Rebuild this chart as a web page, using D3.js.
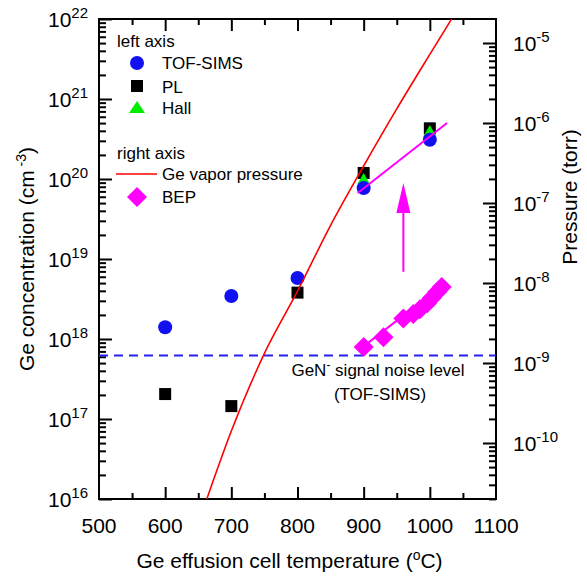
<!DOCTYPE html>
<html>
<head>
<meta charset="utf-8">
<script src="https://cdn.jsdelivr.net/npm/d3@7"></script>
<style>
  body { margin: 0; background: #fff; }
  text { font-family: "Liberation Sans", Arial, sans-serif; fill: #000; }
</style>
</head>
<body>
<script>
// data
const temps = [600, 700, 800, 900, 1000];
const tofSims = [1.4e18, 3.45e18, 5.8e18, 7.7e19, 3.1e20];
const pl = [2.05e17, 1.45e17, 3.8e18, 1.19e20, 4.3e20];
const hallT = [900, 1000];
const hall = [9.8e19, 3.9e20];
const vaporT = [663, 700, 750, 800, 850, 900, 950, 1000, 1033];
const vaporP = [2.0e-11, 1.41e-10, 1.32e-9, 7.9e-9, 5.25e-8, 2.9e-7, 1.5e-6, 7.2e-6, 2.0e-5];
const bepT = [900, 930, 960, 975, 985, 996, 1003, 1011, 1018];
const bepP = [1.58e-9, 2.1e-9, 3.6e-9, 4.1e-9, 4.7e-9, 5.6e-9, 6.5e-9, 7.7e-9, 8.9e-9];
const tofFitT = [891, 1026];
const tofFit = [6.7e19, 5.0e20];
const bepFitT = [895, 1022];
const bepFit = [1.5e-9, 9.8e-9];
const noiseLevel = 6.2e17;
const xTicks = [500, 600, 700, 800, 900, 1000, 1100];
const leftExp = [16, 17, 18, 19, 20, 21, 22];
const rightExp = [-5, -6, -7, -8, -9, -10];

const W = 587, H = 577;
const L = 99, R = 496, T = 19, B = 499;

const svg = d3.select('body').append('svg')
  .attr('width', W).attr('height', H)
  .style('background-color', 'white');

const x = d3.scaleLinear().domain([500, 1100]).range([L, R]);
const yL = d3.scaleLog().domain([1e16, 1e22]).range([B, T]);
const yR = d3.scaleLog().domain([Math.pow(10, -10.7), Math.pow(10, -4.7)]).range([B, T]);

svg.append('clipPath').attr('id', 'plot')
  .append('rect').attr('x', L).attr('y', T).attr('width', R - L).attr('height', B - T);

// ticks (inward), minor then major
function ticks(axis, scale, tv, size, tr) {
  const g = svg.append('g').attr('transform', tr)
    .call(axis(scale).tickValues(tv).tickSize(size).tickFormat(''));
  g.select('.domain').remove();
  g.selectAll('line').attr('stroke', '#000').attr('stroke-width', 2);
}
const xMinor = d3.range(550, 1100, 100);
ticks(d3.axisBottom, x, xMinor, -6, `translate(0,${B})`);
ticks(d3.axisBottom, x, xTicks.slice(1, -1), -12, `translate(0,${B})`);
ticks(d3.axisTop, x, xMinor, -6, `translate(0,${T})`);
ticks(d3.axisTop, x, xTicks.slice(1, -1), -12, `translate(0,${T})`);

const lMinor = yL.ticks().filter(v => Math.abs(Math.log10(v) % 1) > 1e-6);
ticks(d3.axisLeft, yL, lMinor, -7, `translate(${L},0)`);
ticks(d3.axisLeft, yL, leftExp.map(e => Math.pow(10, e)), -13, `translate(${L},0)`);
const rMinor = yR.ticks().filter(v => Math.abs(Math.log10(v) % 1) > 1e-6 && Math.abs(Math.log10(v) % 1) < 1 - 1e-6);
ticks(d3.axisRight, yR, rMinor, -7, `translate(${R},0)`);
ticks(d3.axisRight, yR, rightExp.map(e => Math.pow(10, e)), -13, `translate(${R},0)`);

// frame
svg.append('rect').attr('x', L).attr('y', T).attr('width', R - L).attr('height', B - T)
  .attr('fill', 'none').attr('stroke', '#000').attr('stroke-width', 2);

// tick labels
svg.append('g').selectAll('text').data(xTicks).enter().append('text')
  .attr('x', d => x(d)).attr('y', 533).attr('text-anchor', 'middle')
  .style('font-size', '21px').text(d => d);

function powLabel(g, e, px, py, anchor) {
  const t = g.append('text').attr('x', px).attr('y', py).attr('text-anchor', anchor)
    .style('font-size', '21px');
  t.append('tspan').text('10');
  t.append('tspan').attr('dy', -9).style('font-size', '15px').text(e);
}
const gl = svg.append('g');
leftExp.forEach(e => powLabel(gl, e, 88, yL(Math.pow(10, e)) + 8, 'end'));
const gr = svg.append('g');
rightExp.forEach(e => powLabel(gr, e, 513, yR(Math.pow(10, e)) + 8, 'start'));

// axis titles
const xt = svg.append('text').attr('x', (L + R) / 2 - 8).attr('y', 568)
  .attr('text-anchor', 'middle').style('font-size', '21px');
xt.append('tspan').text('Ge effusion cell temperature (');
xt.append('tspan').attr('dy', -8).style('font-size', '14px').text('o');
xt.append('tspan').attr('dy', 8).text('C)');

const ylt = svg.append('text').attr('transform', 'translate(34,259) rotate(-90)')
  .attr('text-anchor', 'middle').style('font-size', '21px');
ylt.append('tspan').text('Ge concentration (cm');
ylt.append('tspan').attr('dy', -8).style('font-size', '14px').text(' -3');
ylt.append('tspan').attr('dy', 8).text(')');

svg.append('text').attr('transform', 'translate(577,197) rotate(-90)')
  .attr('text-anchor', 'middle').style('font-size', '21px').text('Pressure (torr)');

// noise level
svg.append('line')
  .attr('x1', L).attr('x2', R).attr('y1', yL(noiseLevel)).attr('y2', yL(noiseLevel))
  .attr('stroke', '#2222ee').attr('stroke-width', 2).attr('stroke-dasharray', '9,6');

const nt = svg.append('text').attr('x', 378).attr('y', 376).attr('text-anchor', 'middle')
  .style('font-size', '17px');
nt.append('tspan').text('GeN');
nt.append('tspan').attr('dy', -7).style('font-size', '12px').text('-');
nt.append('tspan').attr('dy', 7).text(' signal noise level');
svg.append('text').attr('x', 380).attr('y', 400).attr('text-anchor', 'middle')
  .style('font-size', '17px').text('(TOF-SIMS)');

const plot = svg.append('g').attr('clip-path', 'url(#plot)');

// markers
const sq = 12;
plot.append('g').selectAll('rect').data(temps).enter().append('rect')
  .attr('x', (d) => x(d) - sq / 2).attr('y', (d, i) => yL(pl[i]) - sq / 2)
  .attr('width', sq).attr('height', sq).attr('fill', '#000');

const tri = d3.symbol().type(d3.symbolTriangle).size(75);
plot.append('g').selectAll('path').data(hallT).enter().append('path')
  .attr('d', tri).attr('transform', (d, i) => `translate(${x(d)},${yL(hall[i]) + 1})`)
  .attr('fill', '#00ee00');

plot.append('g').selectAll('circle').data(temps).enter().append('circle')
  .attr('cx', d => x(d)).attr('cy', (d, i) => yL(tofSims[i])).attr('r', 7)
  .attr('fill', '#1010f0');

// vapor pressure curve
const vapor = d3.line().curve(d3.curveMonotoneX)
  .x(d => x(d[0])).y(d => yR(d[1]));
plot.append('path').datum(vaporT.map((t, i) => [t, vaporP[i]]))
  .attr('d', vapor).attr('fill', 'none').attr('stroke', '#ff0000').attr('stroke-width', 1.6);

// fit lines
plot.append('line')
  .attr('x1', x(tofFitT[0])).attr('y1', yL(tofFit[0]))
  .attr('x2', x(tofFitT[1])).attr('y2', yL(tofFit[1]))
  .attr('stroke', '#ff00ff').attr('stroke-width', 2);
plot.append('line')
  .attr('x1', x(bepFitT[0])).attr('y1', yR(bepFit[0]))
  .attr('x2', x(bepFitT[1])).attr('y2', yR(bepFit[1]))
  .attr('stroke', '#ff00ff').attr('stroke-width', 2);

// BEP diamonds
const dm = 10;
plot.append('g').selectAll('path').data(bepT).enter().append('path')
  .attr('d', `M0,${-dm}L${dm},0L0,${dm}L${-dm},0Z`)
  .attr('transform', (d, i) => `translate(${x(d)},${yR(bepP[i])})`)
  .attr('fill', '#ff00ff');

// arrow
const ax = x(960), ay0 = yR(1.38e-8), ay1 = yR(1.78e-7);
svg.append('line').attr('x1', ax).attr('x2', ax).attr('y1', ay0).attr('y2', ay1 + 25)
  .attr('stroke', '#ff00ff').attr('stroke-width', 2);
svg.append('path')
  .attr('d', `M${ax},${ay1}L${ax + 7},${ay1 + 30}L${ax - 7},${ay1 + 30}Z`)
  .attr('fill', '#ff00ff');

// legend
const lg = svg.append('g').style('font-size', '17px');
lg.append('text').attr('x', 117).attr('y', 47).text('left axis');
lg.append('circle').attr('cx', 137).attr('cy', 63).attr('r', 7).attr('fill', '#1010f0');
lg.append('text').attr('x', 162).attr('y', 69).text('TOF-SIMS');
lg.append('rect').attr('x', 131).attr('y', 80).attr('width', 12).attr('height', 12).attr('fill', '#000');
lg.append('text').attr('x', 162).attr('y', 93).text('PL');
lg.append('path').attr('d', 'M137,101L145,113L129,113Z').attr('fill', '#00ee00');
lg.append('text').attr('x', 162).attr('y', 114).text('Hall');
lg.append('text').attr('x', 117).attr('y', 159).text('right axis');
lg.append('line').attr('x1', 116).attr('x2', 157).attr('y1', 174).attr('y2', 174)
  .attr('stroke', '#ff0000').attr('stroke-width', 1.6);
lg.append('text').attr('x', 162).attr('y', 180).text('Ge vapor pressure');
lg.append('path').attr('d', 'M137,187L147,197L137,207L127,197Z').attr('fill', '#ff00ff');
lg.append('text').attr('x', 162).attr('y', 203).text('BEP');
</script>
</body>
</html>
